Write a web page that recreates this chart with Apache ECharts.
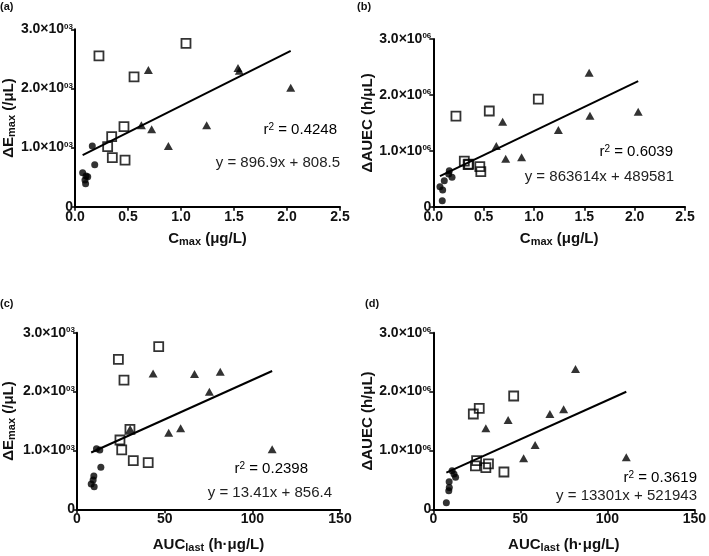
<!DOCTYPE html>
<html>
<head>
<meta charset="utf-8">
<script src="https://cdn.jsdelivr.net/npm/echarts@6/dist/echarts.min.js"></script>
<style>
html,body{margin:0;padding:0;background:#fff;}
#chart{width:709px;height:556px;}
</style>
</head>
<body>
<div id="chart"></div>
<script>
// ---- data ----
// Panel (a): Cmax vs ΔEmax
const aCircles   = [[0.072,575],[0.094,451],[0.104,519],[0.100,390],[0.120,507],[0.163,1026],[0.186,710]];
const aSquares   = [[0.226,2549],[1.047,2763],[0.557,2194],[0.462,1353],[0.346,1184],[0.308,1015],[0.352,829],[0.472,789]];
const aTriangles = [[0.692,2312],[1.538,2345],[1.550,2300],[2.035,2013],[0.626,1376],[0.723,1308],[1.242,1376],[0.881,1026]];
// Panel (b): Cmax vs ΔAUEC
const bCircles   = [[0.066,358000],[0.093,299000],[0.089,107000],[0.109,465000],[0.159,644000],[0.153,585000],[0.186,526000]];
const bSquares   = [[0.225,1622000],[0.556,1712000],[1.043,1926000],[0.308,817000],[0.346,752000],[0.352,762000],[0.462,716000],[0.472,626000]];
const bTriangles = [[1.548,2398000],[1.556,1628000],[2.035,1700000],[1.242,1372000],[0.689,1521000],[0.626,1085000],[0.719,859000],[0.877,883000]];
// Panel (c): AUClast vs ΔEmax
const cCircles   = [[11.1,1029],[13.0,1007],[13.6,713],[9.6,566],[9.2,498],[8.1,430],[9.8,384]];
const cSquares   = [[23.6,2547],[46.6,2762],[26.8,2196],[30.2,1358],[24.5,1177],[25.5,1008],[32.1,826],[40.6,792]];
const cTriangles = [[43.4,2309],[67.0,2298],[81.7,2338],[75.5,1998],[52.3,1302],[59.1,1375],[111.3,1019],[30.3,1365]];
// Panel (d): AUClast vs ΔAUEC
const dCircles   = [[7.5,113000],[8.9,316000],[9.2,370000],[9.1,469000],[10.8,656000],[11.9,600000],[12.8,544000]];
const dSquares   = [[23.0,1619000],[26.4,1715000],[46.2,1925000],[24.9,826000],[24.2,736000],[30.2,708000],[31.7,770000],[40.6,634000]];
const dTriangles = [[81.7,2383000],[67.0,1619000],[74.9,1698000],[43.0,1517000],[30.2,1375000],[58.5,1092000],[51.9,866000],[110.9,883000]];
// regression fits: [slope, intercept]
const fitA = [896.9, 808.5];
const fitB = [863614, 489581];
const fitC = [13.41, 856.4];
const fitD = [13301, 521943];
const r2Labels  = ['0.4248','0.6039','0.2398','0.3619'];
const eqLabels  = ['y = 896.9x + 808.5','y = 863614x + 489581','y = 13.41x + 856.4','y = 13301x + 521943'];
const panelTags = ['(a)','(b)','(c)','(d)'];
const yExpLabels = ['03','06','03','06'];
const yScales = [1000, 1000000, 1000, 1000000];

// ---- layout ----
const FONT = 'Liberation Sans, Arial, Helvetica, sans-serif';
const grids = [
  {left:75, top:29.3, width:265, height:177.4},
  {left:433.3, top:39, width:251.7, height:167.7},
  {left:75, top:332.7, width:265, height:176.6},
  {left:433.3, top:332.7, width:265, height:176.6}
];
const panels = [
  {c:aCircles,s:aSquares,t:aTriangles,fit:fitA,xMax:2.5,xInt:0.5,xDec:1,yName:'{b|ΔE}{sub|max}{b| (/μL)}',xName:'{b|C}{sub|max}{b| (μg/L)}',yGap:55,xGap:24},
  {c:bCircles,s:bSquares,t:bTriangles,fit:fitB,xMax:2.5,xInt:0.5,xDec:1,yName:'{b|ΔAUEC (h/μL)}',xName:'{b|C}{sub|max}{b| (μg/L)}',yGap:56,xGap:24},
  {c:cCircles,s:cSquares,t:cTriangles,fit:fitC,xMax:150,xInt:50,xDec:0,yName:'{b|ΔE}{sub|max}{b| (/μL)}',xName:'{b|AUC}{sub|last}{b| (h·μg/L)}',yGap:60,xGap:27},
  {c:dCircles,s:dSquares,t:dTriangles,fit:fitD,xMax:150,xInt:50,xDec:0,yName:'{b|ΔAUEC (h/μL)}',xName:'{b|AUC}{sub|last}{b| (h·μg/L)}',yGap:56,xGap:27}
];

const nameRich = {
  b:{fontFamily:FONT,fontWeight:'bold',fontSize:15,color:'#111'},
  sub:{fontFamily:FONT,fontWeight:'bold',fontSize:11,color:'#111',verticalAlign:'bottom',padding:[6,0,0,0]}
};

const option = {
  backgroundColor:'#fff',
  animation:false,
  grid: grids.map(g => Object.assign({containLabel:false}, g)),
  xAxis: [], yAxis: [], series: [], graphic: []
};

panels.forEach((p, i) => {
  option.xAxis.push({
    gridIndex:i, type:'value', min:0, max:p.xMax, interval:p.xInt,
    name:p.xName, nameLocation:'middle', nameGap:p.xGap,
    nameTextStyle:{rich:nameRich},
    axisLine:{show:true, onZero:false, lineStyle:{color:'#000', width:2}},
    axisTick:{show:true, length:4, lineStyle:{color:'#000', width:1.5}},
    splitLine:{show:false},
    axisLabel:{margin:3, fontFamily:FONT, fontWeight:'bold', fontSize:14, color:'#111',
      formatter: v => v.toFixed(p.xDec)}
  });
  const sc = yScales[i], ex = yExpLabels[i];
  option.yAxis.push({
    gridIndex:i, type:'value', min:0, max:3*sc, interval:sc,
    name:p.yName, nameLocation:'middle', nameGap:p.yGap, nameRotate:90,
    nameTextStyle:{rich:nameRich},
    axisLine:{show:true, onZero:false, lineStyle:{color:'#000', width:2}},
    axisTick:{show:true, length:4, lineStyle:{color:'#000', width:1.5}},
    splitLine:{show:false},
    axisLabel:{margin:2, color:'#111',
      formatter: v => v === 0 ? '{m|0}' : '{m|' + (v/sc).toFixed(1) + '×10}{s|' + ex + '}',
      rich:{
        m:{fontFamily:FONT, fontWeight:'bold', fontSize:14, color:'#111'},
        s:{fontFamily:FONT, fontWeight:'bold', fontSize:8, color:'#111', verticalAlign:'top'}
      }}
  });
  option.series.push({
    type:'scatter', xAxisIndex:i, yAxisIndex:i, data:p.s, symbol:'rect', symbolSize:9,
    itemStyle:{color:'rgba(255,255,255,0)', borderColor:'#000', borderWidth:1.8}, z:2
  });
  option.series.push({
    type:'scatter', xAxisIndex:i, yAxisIndex:i, data:p.t, symbol:'triangle', symbolSize:[9,8],
    itemStyle:{color:'#000'}, z:3
  });
  option.series.push({
    type:'scatter', xAxisIndex:i, yAxisIndex:i, data:p.c, symbol:'circle', symbolSize:7,
    itemStyle:{color:'#000'}, z:3
  });
  const xs = p.c.concat(p.s, p.t).map(d => d[0]);
  const x0 = Math.min.apply(null, xs), x1 = Math.max.apply(null, xs);
  option.series.push({
    type:'line', xAxisIndex:i, yAxisIndex:i, symbol:'none', silent:true,
    data:[[x0, p.fit[0]*x0 + p.fit[1]], [x1, p.fit[0]*x1 + p.fit[1]]],
    lineStyle:{color:'#000', width:2}, z:4
  });
});

// annotations
const annRich = {
  n:{fontFamily:FONT, fontSize:15, color:'#222'},
  sup:{fontFamily:FONT, fontSize:10, color:'#222', verticalAlign:'top'}
};
const annPos = [
  {rx:337, ry:130, ex:340, ey:163},
  {rx:673, ry:152, ex:674, ey:177},
  {rx:308, ry:469, ex:332, ey:493},
  {rx:697, ry:478, ex:697, ey:496}
];
annPos.forEach((a, i) => {
  option.graphic.push({type:'text', x:a.rx, y:a.ry, z:10,
    style:{text:'{n|r}{sup|2}{n| = ' + r2Labels[i] + '}', rich:annRich, align:'right', verticalAlign:'middle'}});
  option.graphic.push({type:'text', x:a.ex, y:a.ey, z:10,
    style:{text:eqLabels[i], font:'15px ' + FONT, fill:'#222', align:'right', verticalAlign:'middle'}});
});
const tagPos = [[0,1],[357,1],[0,298],[365,298]];
tagPos.forEach((t, i) => {
  option.graphic.push({type:'text', x:t[0], y:t[1], z:10,
    style:{text:panelTags[i], font:'bold 11px ' + FONT, fill:'#111', align:'left', verticalAlign:'top'}});
});

const chart = echarts.init(document.getElementById('chart'), null, {renderer:'canvas'});
chart.setOption(option);
</script>
</body>
</html>
